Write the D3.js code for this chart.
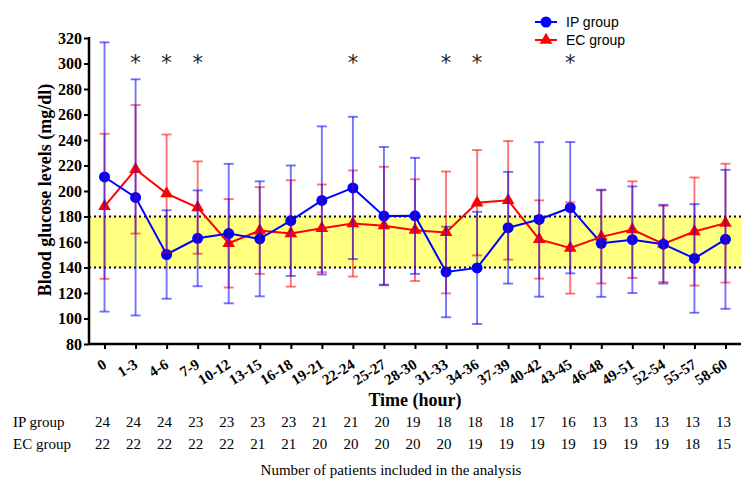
<!DOCTYPE html>
<html><head><meta charset="utf-8">
<script src="https://cdn.jsdelivr.net/npm/d3@7"></script>
<style>body{margin:0;background:#fff}</style>
</head><body>
<svg id="c" width="750" height="492"></svg>
<script>
const categories = ["0","1-3","4-6","7-9","10-12","13-15","16-18","19-21","22-24","25-27","28-30","31-33","34-36","37-39","40-42","43-45","46-48","49-51","52-54","55-57","58-60"];
const ipMean = [211, 195, 150.2, 162.9, 166.6, 162.5, 176.7, 192.6, 202.4, 180.3, 180.5, 136.5, 139.7, 171.2, 177.7, 186.9, 159, 161.8, 158.3, 147.1, 162.1];
const ipSD   = [105.6, 92.6, 34.7, 37.6, 54.7, 45.1, 43.3, 58.1, 55.8, 54.2, 45.5, 35.5, 44, 43.8, 60.6, 51.5, 42, 41.8, 30.9, 42.6, 54.5];
const ecMean = [188, 217, 198, 187, 159, 169, 166.7, 170.7, 174.5, 172.8, 169.3, 167.5, 190.8, 192.7, 162, 155.3, 164, 169.7, 158.5, 168.2, 174.8];
const ecSD   = [56.9, 50.4, 46.3, 36.2, 34.7, 34, 41.7, 34.4, 41.6, 46.2, 39.9, 47.8, 41.3, 46.5, 30.7, 35.8, 36.5, 37.9, 29.9, 42.4, 46.6];
const ipN = [24,24,24,23,23,23,23,21,21,20,19,18,18,18,17,16,13,13,13,13,13];
const ecN = [22,22,22,22,22,21,21,20,20,20,20,20,19,19,19,19,19,19,19,18,15];
const significant = ["1-3","4-6","7-9","22-24","31-33","34-36","43-45"];
const yTicks = [80,100,120,140,160,180,200,220,240,260,280,300,320];
const targetRange = [140, 180];
const seriesNames = ["IP group","EC group"];

const svg = d3.select("#c");
const serif = "'Liberation Serif','Times New Roman',serif";
const sans = "'Liberation Sans',Arial,sans-serif";
const x = d3.scalePoint().domain(categories).range([89, 741]).padding(0.5);
const y = d3.scaleLinear().domain([80, 320]).range([344, 38]);
const blue = "#0000ff", red = "#ff0000";

// target band
svg.append("rect").attr("x", 89).attr("width", 741-89)
  .attr("y", y(targetRange[1])).attr("height", y(targetRange[0]) - y(targetRange[1]))
  .attr("fill", "#ffff80");
targetRange.forEach(v => {
  svg.append("line").attr("x1", 89).attr("x2", 741).attr("y1", y(v)).attr("y2", y(v))
    .attr("stroke", "#000").attr("stroke-width", 2).attr("stroke-dasharray", "2,3");
});

const ip = categories.map((c,i)=>({c, m: ipMean[i], sd: ipSD[i]}));
const ec = categories.map((c,i)=>({c, m: ecMean[i], sd: ecSD[i]}));
const line = d3.line().x(d=>x(d.c)).y(d=>y(d.m));

svg.append("path").datum(ec).attr("d", line).attr("fill","none").attr("stroke", red).attr("stroke-width", 2);
svg.append("path").datum(ip).attr("d", line).attr("fill","none").attr("stroke", blue).attr("stroke-width", 2);

const tri = d3.symbol().type(d3.symbolTriangle).size(70);
svg.selectAll(".ecm").data(ec).join("path")
  .attr("d", tri).attr("transform", d=>`translate(${x(d.c)},${y(d.m)})`).attr("fill", red);
svg.selectAll(".ipm").data(ip).join("circle")
  .attr("cx", d=>x(d.c)).attr("cy", d=>y(d.m)).attr("r", 5.5).attr("fill", blue);

function errBars(data, color) {
  const g = svg.append("g").attr("stroke", color).attr("stroke-width", 1.9).attr("stroke-opacity", 0.55).attr("fill","none");
  data.forEach(d => {
    const cx = x(d.c), y1 = y(d.m + d.sd), y2 = y(d.m - d.sd);
    g.append("line").attr("x1", cx).attr("x2", cx).attr("y1", y1).attr("y2", y2);
    g.append("line").attr("x1", cx-5).attr("x2", cx+5).attr("y1", y1).attr("y2", y1);
    g.append("line").attr("x1", cx-5).attr("x2", cx+5).attr("y1", y2).attr("y2", y2);
  });
}
errBars(ec, red);
errBars(ip, blue);

// significance asterisks
svg.selectAll(".sig").data(significant).join("text")
  .attr("x", d=>x(d)).attr("y", 70).attr("text-anchor","middle")
  .attr("font-family", "'DejaVu Sans',sans-serif").attr("font-size", 21).attr("fill", "#222").text("*");

// axes
const yAxis = svg.append("g").attr("transform","translate(89,0)")
  .call(d3.axisLeft(y).tickValues(yTicks).tickSize(5).tickPadding(2));
yAxis.select(".domain").attr("stroke-width", 2.5).attr("d", `M0,${y(320)-1}V${y(80)}`);
yAxis.selectAll(".tick line").attr("stroke-width", 2);
yAxis.selectAll("text").attr("font-family", serif).attr("font-weight","bold").attr("font-size", 16).attr("fill","#000");

const xAxis = svg.append("g").attr("transform",`translate(0,${y(80)})`)
  .call(d3.axisBottom(x).tickSize(5).tickSizeOuter(0));
xAxis.select(".domain").attr("stroke-width", 2.5).attr("d", "M89,0H741");
xAxis.selectAll(".tick line").attr("stroke-width", 2);
xAxis.selectAll("text").attr("font-family", serif).attr("font-weight","bold").attr("font-size", 15)
  .attr("fill","#000").attr("text-anchor","end").attr("dy", null).attr("y", 0)
  .attr("transform", "translate(2.5,23) rotate(-32)");

svg.append("text").attr("transform", "translate(51,190) rotate(-90)").attr("text-anchor","middle")
  .attr("font-family", serif).attr("font-weight","bold").attr("font-size", 18).text("Blood glucose levels (mg/dl)");
svg.append("text").attr("x", 415).attr("y", 406).attr("text-anchor","middle")
  .attr("font-family", serif).attr("font-weight","bold").attr("font-size", 18).text("Time (hour)");

// legend
const lg = svg.append("g");
lg.append("line").attr("x1",535).attr("x2",557).attr("y1",22).attr("y2",22).attr("stroke",blue).attr("stroke-width",2);
lg.append("circle").attr("cx",546).attr("cy",22).attr("r",5.5).attr("fill",blue);
lg.append("line").attr("x1",535).attr("x2",557).attr("y1",40).attr("y2",40).attr("stroke",red).attr("stroke-width",2);
lg.append("path").attr("d",tri).attr("transform","translate(546,40)").attr("fill",red);
lg.append("text").attr("x",566).attr("y",27).attr("font-family",sans).attr("font-size",14).text(seriesNames[0]);
lg.append("text").attr("x",566).attr("y",45).attr("font-family",sans).attr("font-size",14).text(seriesNames[1]);

// table of patient numbers
const tbl = svg.append("g").attr("font-family", serif).attr("font-size", 15).attr("fill","#000");
tbl.append("text").attr("x", 13).attr("y", 427).text(seriesNames[0]);
tbl.append("text").attr("x", 13).attr("y", 449).text(seriesNames[1]);
tbl.selectAll(".ipn").data(ipN).join("text").attr("x",(d,i)=>x(categories[i])-2).attr("y",427)
  .attr("text-anchor","middle").text(d=>d);
tbl.selectAll(".ecn").data(ecN).join("text").attr("x",(d,i)=>x(categories[i])-2).attr("y",449)
  .attr("text-anchor","middle").text(d=>d);
tbl.append("text").attr("x", 391).attr("y", 475).attr("text-anchor","middle")
  .text("Number of patients included in the analysis");
</script>
</body></html>
